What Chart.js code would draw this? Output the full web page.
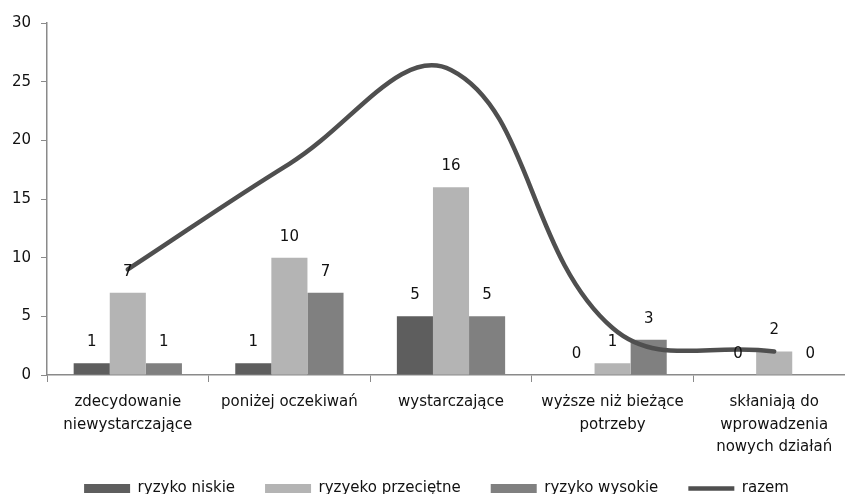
<!DOCTYPE html>
<html>
<head>
<meta charset="utf-8">
<script src="https://cdn.jsdelivr.net/npm/chart.js@4"></script>
<style>
  html, body { margin: 0; padding: 0; background: #ffffff; }
  #wrap { width: 845px; height: 494px; }
</style>
</head>
<body>
<div id="wrap"><canvas id="c" width="845" height="494"></canvas></div>
<script>
const categories = [
  ["zdecydowanie", "niewystarczające"],
  "poniżej oczekiwań",
  "wystarczające",
  ["wyższe niż bieżące", "potrzeby"],
  ["skłaniają do", "wprowadzenia", "nowych działań"]
];
const ryzykoNiskie = [1, 1, 5, 0, 0];
const ryzykoPrzecietne = [7, 10, 16, 1, 2];
const ryzykoWysokie = [1, 7, 5, 3, 0];
const razem = [9, 18, 26, 4, 2];
const seriesNames = ["ryzyko niskie", "ryzyeko przeciętne", "ryzyko wysokie", "razem"];
const yTicks = [0, 5, 10, 15, 20, 25, 30];

const FONT = "'DejaVu Sans', Verdana, sans-serif";

const barLabels = {
  id: 'barLabels',
  afterDatasetsDraw(chart) {
    const ctx = chart.ctx;
    ctx.save();
    ctx.font = "15px " + FONT;
    ctx.fillStyle = "#111111";
    ctx.textAlign = "center";
    ctx.textBaseline = "middle";
    chart.data.datasets.forEach((ds, i) => {
      if (ds.type !== 'bar') return;
      const meta = chart.getDatasetMeta(i);
      meta.data.forEach((el, j) => {
        ctx.fillText(String(ds.data[j]), el.x, el.y - 21);
      });
    });
    ctx.restore();
  }
};

// The reference plot area runs about 10px past the right edge of the picture,
// the category labels hang a little below the space reserved for the x axis,
// and the legend sits slightly right of centre.
const adjustLayout = {
  id: 'adjustLayout',
  afterLayout(chart) {
    const s = chart.scales.x;
    const r = chart.width + 10;
    s.right = r;
    s.width = r - s.left;
    s.bottom += 20;
    s.height += 20;
    chart.chartArea.right = r;
    chart.chartArea.width = r - chart.chartArea.left;
    s.configure();
    if (chart.legend) {
      chart.legend.left += 9;
      chart.legend.right += 9;
    }
  }
};

new Chart(document.getElementById('c'), {
  data: {
    labels: categories,
    datasets: [
      { type: 'bar', label: seriesNames[0], data: ryzykoNiskie, backgroundColor: '#5e5e5e', borderWidth: 0, order: 1, pointStyle: 'rect' },
      { type: 'bar', label: seriesNames[1], data: ryzykoPrzecietne, backgroundColor: '#b4b4b4', borderWidth: 0, order: 1, pointStyle: 'rect' },
      { type: 'bar', label: seriesNames[2], data: ryzykoWysokie, backgroundColor: '#808080', borderWidth: 0, order: 1, pointStyle: 'rect' },
      { type: 'line', label: seriesNames[3], data: razem, borderColor: '#4f4f4f', backgroundColor: '#4f4f4f',
        borderWidth: 4.5, tension: 0.4, pointRadius: 0, pointStyle: 'line', order: 0, borderCapStyle: 'round' }
    ]
  },
  options: {
    responsive: false,
    animation: false,
    devicePixelRatio: 1,
    layout: { padding: { top: 23, right: 0, bottom: -12, left: 10 } },
    datasets: { bar: { categoryPercentage: 0.67, barPercentage: 1.0 } },
    plugins: {
      legend: {
        position: 'bottom',
        labels: {
          usePointStyle: true,
          pointStyleWidth: 46,
          boxHeight: 9,
          padding: 30,
          color: '#111111',
          font: { family: FONT, size: 15 },
          sort: (a, b) => a.datasetIndex - b.datasetIndex
        }
      },
      tooltip: { enabled: false }
    },
    scales: {
      x: {
        offset: true,
        grid: { display: true, drawOnChartArea: false, offset: true, tickLength: 7, color: '#8a8a8a', tickColor: '#8a8a8a' },
        border: { display: true, color: '#8a8a8a', width: 1.5 },
        ticks: { color: '#111111', padding: 9, maxRotation: 0, autoSkip: false, font: { family: FONT, size: 15, lineHeight: 1.5 } },
        afterFit(s) { s.height = 76; }
      },
      y: {
        min: 0, max: 30,
        afterBuildTicks(s) { s.ticks = yTicks.map(v => ({ value: v })); },
        grid: { display: true, drawOnChartArea: false, tickLength: 6, color: '#8a8a8a', tickColor: '#8a8a8a' },
        border: { display: true, color: '#8a8a8a', width: 1.5 },
        ticks: { color: '#111111', padding: 10, font: { family: FONT, size: 15 } },
        afterFit(s) { s.width = 37; }
      }
    }
  },
  plugins: [barLabels, adjustLayout]
});
</script>
</body>
</html>
